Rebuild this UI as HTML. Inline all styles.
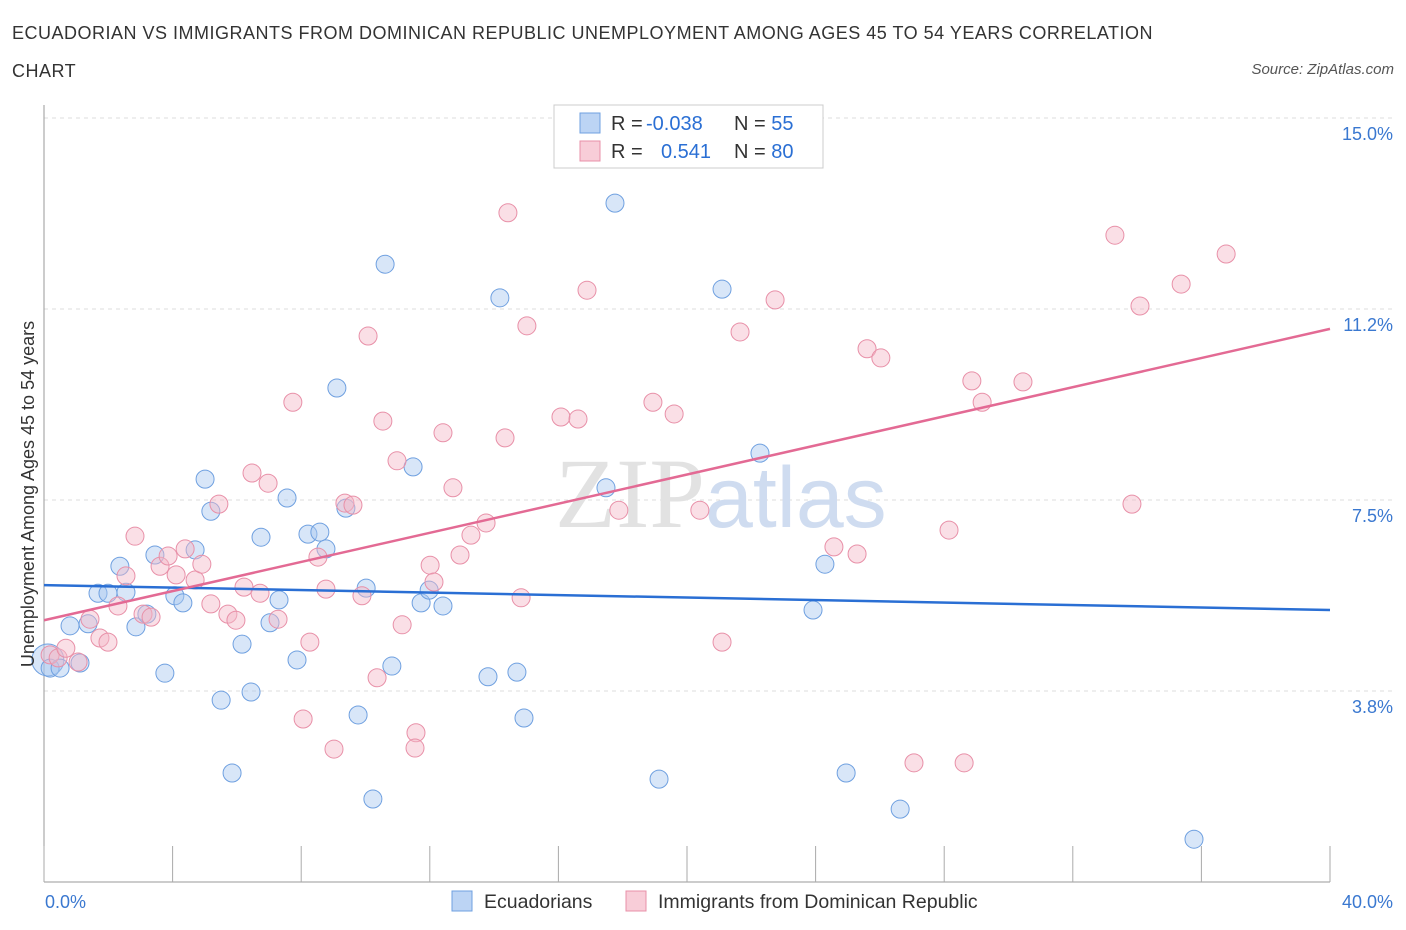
<!DOCTYPE html>
<html><head><meta charset="utf-8">
<style>
body{margin:0;background:#fff;font-family:"Liberation Sans",sans-serif;}
#wrap{position:relative;width:1406px;height:930px;overflow:hidden;}
.t{position:absolute;color:#333;}
</style></head>
<body>
<div id="wrap">
<div class="t" style="left:12px;top:14px;font-size:18px;line-height:38px;letter-spacing:0.5px;color:#333;">ECUADORIAN VS IMMIGRANTS FROM DOMINICAN REPUBLIC UNEMPLOYMENT AMONG AGES 45 TO 54 YEARS CORRELATION<br>CHART</div>
<div class="t" style="right:12px;top:61px;font-size:15px;font-style:italic;color:#555;">Source: ZipAtlas.com</div>
<svg id="svg" width="1406" height="930" style="position:absolute;left:0;top:0;"></svg>
</div>
<script>
const blueX=[0.19,0.50,0.81,1.12,1.37,1.68,1.99,2.36,2.55,2.86,3.20,3.45,3.76,4.07,4.32,4.70,5.01,5.19,5.51,5.85,6.16,6.44,6.75,7.03,7.31,7.56,7.87,8.21,8.58,8.77,9.11,9.39,9.77,10.02,10.23,10.61,10.82,11.48,11.73,11.98,12.41,13.81,14.18,14.71,14.93,17.48,17.76,19.13,21.09,22.27,23.92,24.29,24.95,26.63,35.77];
const blueY=[4.20,4.20,5.03,4.30,5.07,5.67,5.67,6.20,5.69,5.01,5.26,6.42,4.10,5.62,5.48,6.52,7.91,7.28,3.57,2.14,4.67,3.73,6.77,5.09,5.54,7.54,4.36,6.83,6.87,6.54,9.70,7.34,3.28,5.77,1.63,12.13,4.24,8.15,5.48,5.73,5.42,4.03,11.47,4.12,3.22,7.74,13.33,2.02,11.64,8.42,5.34,6.24,2.14,1.43,0.84];
const pinkX=[0.19,0.44,0.68,1.06,1.43,1.74,1.99,2.30,2.55,2.83,3.08,3.33,3.61,3.86,4.11,4.39,4.70,4.91,5.19,5.44,5.72,5.97,6.22,6.47,6.72,6.97,7.28,7.74,8.06,8.27,8.52,8.77,9.02,9.36,9.61,9.89,10.08,10.36,10.54,10.98,11.14,11.57,11.54,12.01,12.13,12.41,12.72,12.94,13.28,13.75,14.34,14.43,14.84,15.02,16.08,16.61,16.89,17.88,18.94,19.60,20.40,21.09,21.65,22.74,24.57,25.29,25.60,26.03,27.06,28.15,28.62,28.86,29.18,30.45,33.31,33.84,34.09,35.37,36.77];
const pinkY=[4.46,4.40,4.59,4.32,5.16,4.79,4.71,5.42,6.01,6.79,5.26,5.20,6.20,6.40,6.03,6.54,5.93,6.24,5.46,7.42,5.26,5.14,5.79,8.03,5.67,7.83,5.16,9.42,3.20,4.71,6.38,5.75,2.61,7.44,7.40,5.62,10.72,4.01,9.05,8.27,5.05,2.93,2.63,6.22,5.89,8.82,7.74,6.42,6.81,7.05,8.72,13.14,5.58,10.92,9.13,9.09,11.62,7.30,9.42,9.19,7.30,4.71,10.80,11.43,6.58,6.44,10.47,10.29,2.34,6.91,2.34,9.84,9.42,9.82,12.70,7.42,11.31,11.74,12.33];
const blueTrend=[5.83,5.34];
const pinkTrend=[5.14,10.86];
const yTicks=[15.0,11.25,7.5,3.75];
const yTickLabels=["15.0%","11.2%","7.5%","3.8%"];
const xTicks=[0,4,8,12,16,20,24,28,32,36,40];

const X0=44,X1=1330,Y0=882,PXX=(X1-X0)/40,PXY=50.93;
const sx=v=>X0+v*PXX, sy=v=>Y0-v*PXY;
const svg=document.getElementById('svg');
const NS='http://www.w3.org/2000/svg';
function mk(tag,attrs,parent){const e=document.createElementNS(NS,tag);for(const k in attrs)e.setAttribute(k,attrs[k]);(parent||svg).appendChild(e);return e;}

yTicks.forEach((v,i)=>{
  const g=mk('line',{x1:X0,x2:1395,y1:sy(v),y2:sy(v),stroke:'#ddd','stroke-dasharray':'4,4'});
  
  
  const t=mk('text',{x:1393,y:sy(v)+22,'text-anchor':'end','font-size':18,fill:'#3a78d0','font-family':'Liberation Sans, sans-serif'});
  t.textContent=yTickLabels[i];
  
  
});
const ya=mk('line',{x1:X0,x2:X0,y1:105,y2:Y0,stroke:'#999'});


const xa=mk('line',{x1:X0,x2:X1,y1:Y0,y2:Y0,stroke:'#999'});


xTicks.forEach(v=>{
  const l=mk('line',{x1:sx(v),x2:sx(v),y1:Y0,y2:Y0-36,stroke:'#aaa'});
  
  
});
const wm=mk('text',{x:555,y:527,'font-size':100,fill:'#e2e2e2','font-family':'Liberation Serif, serif'});
wm.innerHTML='ZIP<tspan fill="#cfdcf0" font-family="Liberation Sans, sans-serif" font-size="86">atlas</tspan>';



function pts(xs,ys,fill,stroke,name){
  xs.forEach((v,i)=>{
    const c=mk('circle',{cx:sx(v),cy:sy(ys[i]),r:9,fill:fill,'fill-opacity':0.45,stroke:stroke,'stroke-width':1});
    
    
  });
}
const big=mk('circle',{cx:sx(0.12),cy:sy(4.36),r:16,fill:'#a8c8f0','fill-opacity':0.45,stroke:'#6fa0e0'});


pts(blueX,blueY,'#a8c8f0','#6fa0e0','ecuadorian-point');
pts(pinkX,pinkY,'#f4b8c8','#e890a8','dominican-point');
const bl=mk('line',{x1:sx(0),y1:sy(blueTrend[0]),x2:sx(40),y2:sy(blueTrend[1]),stroke:'#2a6fd4','stroke-width':2.5});


const pl=mk('line',{x1:sx(0),y1:sy(pinkTrend[0]),x2:sx(40),y2:sy(pinkTrend[1]),stroke:'#e36a94','stroke-width':2.5});



const xl0=mk('text',{x:45,y:908,'font-size':18,fill:'#3a78d0','font-family':'Liberation Sans, sans-serif'});xl0.textContent='0.0%';


const xl1=mk('text',{x:1393,y:908,'text-anchor':'end','font-size':18,fill:'#3a78d0','font-family':'Liberation Sans, sans-serif'});xl1.textContent='40.0%';


const yt=mk('text',{x:0,y:0,transform:'translate(34,494) rotate(-90)','text-anchor':'middle','font-size':18,fill:'#333','font-family':'Liberation Sans, sans-serif'});
yt.textContent='Unemployment Among Ages 45 to 54 years';



const lg=mk('rect',{x:554,y:105,width:269,height:63,fill:'#fff',stroke:'#ccc'});


function legRow(y,fill,stroke,r,n,name){
  const s=mk('rect',{x:580,y:y-10,width:20,height:20,fill:fill,stroke:stroke});
  
  
  const t=mk('text',{x:611,y:y+7,'font-size':20,fill:'#333','font-family':'Liberation Sans, sans-serif'});
  t.innerHTML='R = <tspan fill="#2a6fd4" x="'+(r[0]=='-'?646:661)+'">'+r+'</tspan><tspan x="734">N = </tspan><tspan fill="#2a6fd4">'+n+'</tspan>';
  
  
}
legRow(123,'#bcd4f4','#6fa0e0','-0.038','55','ecuadorian');
legRow(151,'#f8cdd8','#e890a8','0.541','80','dominican');

function bleg(x,fill,stroke,label,name){
  const s=mk('rect',{x:x,y:891,width:20,height:20,fill:fill,stroke:stroke});
  
  
  const t=mk('text',{x:x+32,y:908,'font-size':19.5,fill:'#333','font-family':'Liberation Sans, sans-serif'});
  t.textContent=label;
  
  
}
bleg(452,'#bcd4f4','#6fa0e0','Ecuadorians','ecuadorian');
bleg(626,'#f8cdd8','#e890a8','Immigrants from Dominican Republic','dominican');
</script>
</body></html>
